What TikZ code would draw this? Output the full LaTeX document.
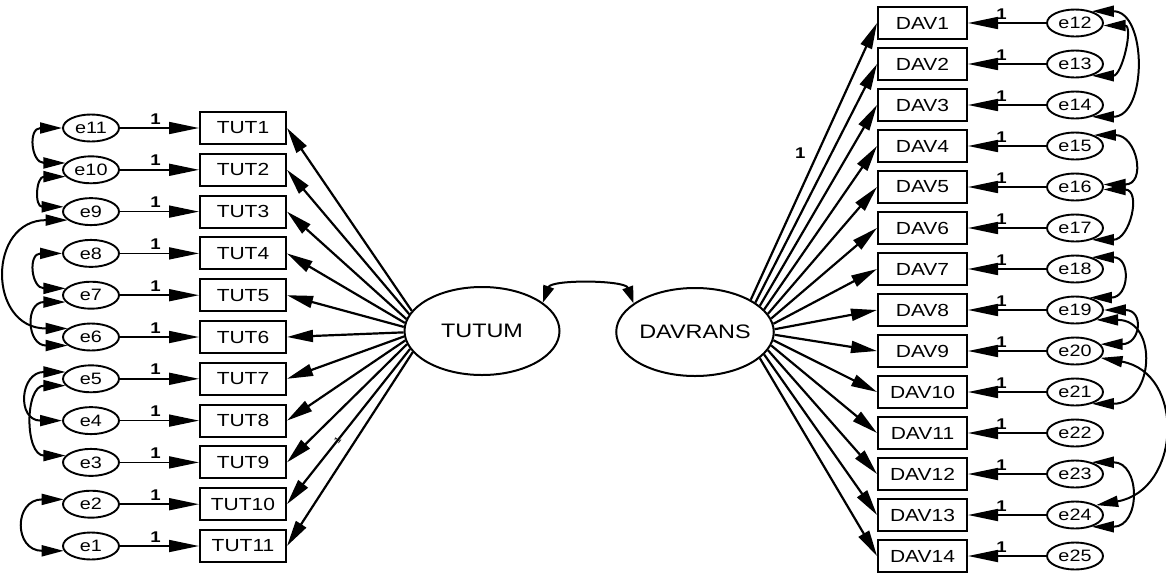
\documentclass[tikz,border=0pt]{standalone}
\usepackage{fontspec}
\setmainfont[FakeStretch=1.2]{Liberation Sans}
\usetikzlibrary{shapes.geometric,arrows.meta}
\begin{document}
\begin{tikzpicture}[x=1pt,y=1pt,
  obs/.style={draw,line width=2pt,minimum width=86pt,minimum height=32pt,inner sep=0pt,font=\fontsize{17.5}{17.5}\selectfont},
  dobs/.style={obs,minimum width=89pt},
  err/.style={draw,ellipse,line width=1.9pt,minimum width=56pt,minimum height=27pt,inner sep=0pt,font=\fontsize{16.5}{16.5}\selectfont},
  lat/.style={draw,ellipse,line width=2pt,minimum width=155pt,minimum height=88pt,inner sep=0pt,font=\fontsize{19.5}{19.5}\selectfont},
  load/.style={line width=2.2pt,-{Triangle[length=26pt,width=12pt]}},
  epath/.style={line width=1.7pt,-{Triangle[length=30pt,width=12pt]}},
  cov/.style={line width=2pt,{Triangle[length=22pt,width=11pt]}-{Triangle[length=22pt,width=11pt]}},
  lcov/.style={line width=2pt,{Triangle[length=17pt,width=11pt]}-{Triangle[length=17pt,width=11pt]}},
  one/.style={font=\fontsize{15.5}{15.5}\selectfont\bfseries,inner sep=0pt}
]
\useasboundingbox (0,0) rectangle (1166,-576);
\node[lat] (tutum) at (482,-331) {TUTUM};
\node[lat] (davrans) at (695,-332) {DAVRANS};
% left side
\foreach \i in {1,...,11}{
  \pgfmathsetmacro\yy{-128-41.8*(\i-1)}
  \pgfmathtruncatemacro\ei{12-\i}
  \pgfmathtruncatemacro\ang{round(164+3.3*(\i-1))}
  \node[obs] (tut\i) at (243,\yy) {TUT\i};
  \node[err] (e\ei) at (91,\yy) {e\ei};
  \draw[epath] (e\ei) -- node[one,above=3pt,pos=0.45]{1} (tut\i);
  \draw[load] (tutum.\ang) -- (tut\i.east);
}
\path (tutum.194) -- node[pos=0.59,sloped,inner sep=0pt,font=\fontsize{9}{9}\selectfont]{1} (tut10.east);
% right side
\foreach \i in {1,...,14}{
  \pgfmathsetmacro\yy{-23-41*(\i-1)}
  \pgfmathtruncatemacro\ej{11+\i}
  \pgfmathtruncatemacro\ang{mod(390-4*(\i-1),360)}
  \node[dobs] (dav\i) at (922.5,\yy) {DAV\i};
  \node[err] (e\ej) at (1075,\yy) {e\ej};
  \draw[epath] (e\ej) -- node[one,above=3pt,pos=0.57]{1} (dav\i);
  \draw[load] (davrans.\ang) -- (dav\i.west);
}
\path (davrans.30) -- node[one,pos=0.53,left=12pt]{1} (dav1.west);
% latent covariance
\draw[lcov] (tutum.25) to[out=70,in=110,looseness=0.7] (davrans.155);
% left covariances
\draw[cov] (e11.180) to[out=180,in=180,looseness=2.5] (e10.165);
\draw[cov] (e10.195) to[out=180,in=180,looseness=2.5] (e9.170);
\draw[cov] (e9.200) to[out=180,in=180,looseness=1.9] (e6.160);
\draw[cov] (e8.180) to[out=180,in=180,looseness=2.5] (e7.165);
\draw[cov] (e7.195) to[out=180,in=180,looseness=2.4] (e6.200);
\draw[cov] (e5.165) to[out=180,in=180,looseness=2.4] (e4.180);
\draw[cov] (e5.195) to[out=180,in=180,looseness=1.5] (e3.165);
\draw[cov] (e2.170) to[out=180,in=180,looseness=2.5] (e1.190);
% right covariances
\draw[cov] (e12.355) to[out=0,in=0,looseness=1.5] (e13.325);
\draw[cov] (e12.35) to[out=0,in=0,looseness=1.35] (e14.325);
\draw[cov] (e15.30) to[out=0,in=0,looseness=2.2] (e16.5);
\draw[cov] (e16.355) to[out=0,in=0,looseness=1.9] (e17.325);
\draw[cov] (e18.35) to[out=0,in=0,looseness=2.5] (e19.40);
\draw[cov] (e19.0) to[out=0,in=0,looseness=3] (e20.15);
\draw[cov] (e19.335) to[out=0,in=0,looseness=1.9] (e21.325);
\draw[cov] (e20.345) to[out=-10,in=10,looseness=1.5] (e24.25);
\draw[cov] (e23.35) to[out=0,in=0,looseness=1.95] (e24.325);
\end{tikzpicture}
\end{document}
